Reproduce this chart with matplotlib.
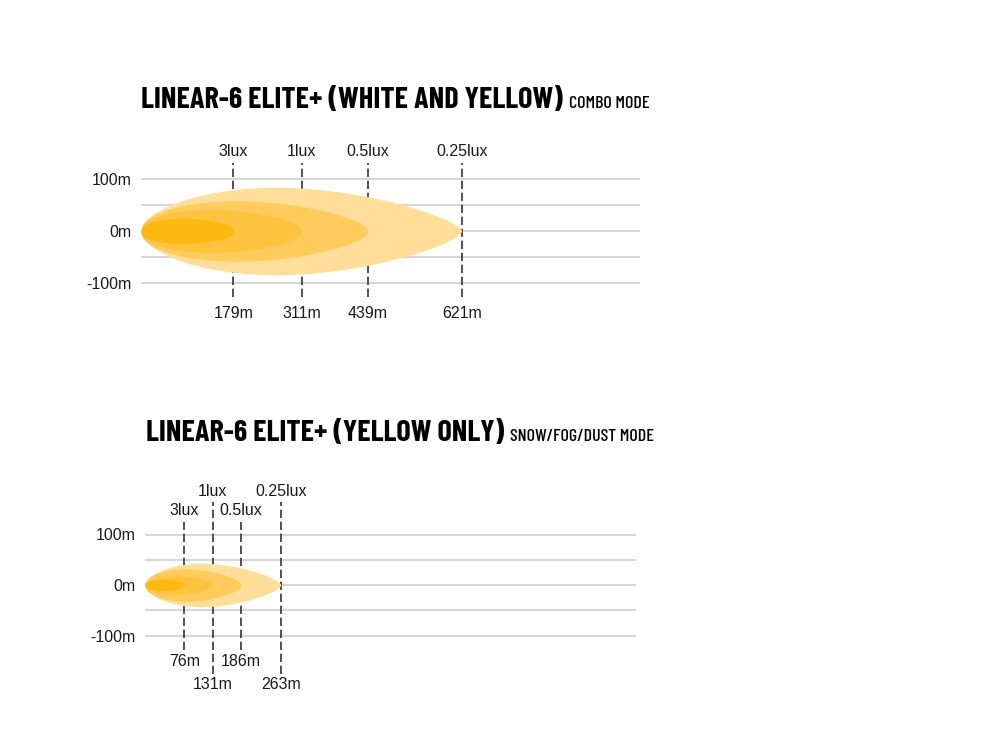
import matplotlib
matplotlib.use("Agg")
import matplotlib.pyplot as plt
import numpy as np

W, H = 1000, 750

# ── Data ──────────────────────────────────────────────────────────────────────
lux_labels = ["3lux", "1lux", "0.5lux", "0.25lux"]

combo_dist = [179, 311, 439, 621]       # beam reach (m)
combo_half = [24, 41, 58, 84]           # beam half width (m)

yellow_dist = [76, 131, 186, 263]
yellow_half = [11, 18, 32, 43]

y_ticks = [-100, -50, 0, 50, 100]
y_tick_labels = ["-100m", "", "0m", "", "100m"]

# colours, innermost (3lux) -> outermost (0.25lux)
BEAM_COLORS = ["#FCBA10", "#FDC33E", "#FECB5C", "#FFDE99"]
BEAM_BLUNT = [0.42, 0.5, 0.55, 0.65]    # smaller = rounder beam outline
BEAM_SKEW = [0.9, 0.85, 0.8, 0.8]       # where the widest point sits
C_GRID = "#CCCCCC"
C_DASH = "#333333"
C_TEXT = "#1A1A1A"

TITLE_FONT = ["Barlow Condensed", "DejaVu Sans"]
BODY_FONT = ["Liberation Sans", "DejaVu Sans"]

PX_PER_M = 0.5164  # horizontal scale shared by both charts

fig = plt.figure(figsize=(W / 100, H / 100), dpi=100)
fig.patch.set_facecolor("white")


def px_axes(x0, x1, y_top, y_bot, y_center, y_px_per_m):
    """Axes placed by pixel box; data units are metres."""
    ax = fig.add_axes([x0 / W, 1 - y_bot / H, (x1 - x0) / W, (y_bot - y_top) / H])
    ax.set_xlim(0, (x1 - x0) / PX_PER_M)
    ax.set_ylim(-(y_bot - y_center) / y_px_per_m, (y_center - y_top) / y_px_per_m)
    ax.patch.set_alpha(0)
    for sp in ax.spines.values():
        sp.set_visible(False)
    ax.set_xticks([])
    ax.set_yticks(y_ticks)
    ax.set_yticklabels(y_tick_labels, fontsize=11.5, family=BODY_FONT, color=C_TEXT)
    ax.tick_params(axis="y", length=0, pad=7)
    ax.yaxis.grid(True, color=C_GRID, linewidth=1.1)
    ax.set_axisbelow(True)
    return ax


def draw_beams(ax, dist, half):
    t = np.linspace(0, 1, 400)
    for i in reversed(range(len(dist))):
        shape = np.sin(np.pi * t ** BEAM_SKEW[i]) ** BEAM_BLUNT[i]
        ax.fill_between(dist[i] * t, -half[i] * shape, half[i] * shape,
                        color=BEAM_COLORS[i], linewidth=0, zorder=3 + (3 - i))


def draw_markers(ax, dist, line_top, line_bot, lux_y, dist_y):
    for i, d in enumerate(dist):
        ax.vlines(d, line_bot[i], line_top[i], colors=C_DASH, linewidth=1.2,
                  linestyles=(0, (5, 2.2)), zorder=2)
        ax.text(d, lux_y[i], lux_labels[i], ha="center", va="center",
                fontsize=11.5, family=BODY_FONT, color=C_TEXT)
        ax.text(d, dist_y[i], f"{d}m", ha="center", va="center",
                fontsize=11.5, family=BODY_FONT, color=C_TEXT)


def title(x, y_base, main, sub):
    t1 = fig.text(x / W, 1 - y_base / H, main, fontsize=21.8, weight="bold",
                  family=TITLE_FONT, color="#000000", va="baseline")
    fig.canvas.draw()
    bb = t1.get_window_extent()
    fig.text((bb.x1 + 6) / W, 1 - y_base / H, sub, fontsize=13, weight="medium",
             family=TITLE_FONT, color="#000000", va="baseline")


# ── Chart 1: combo mode ───────────────────────────────────────────────────────
title(141, 108, "LINEAR-6 ELITE+ (WHITE AND YELLOW)", "COMBO MODE")
ax1 = px_axes(141, 640, 140, 330, 231, 0.52)
draw_beams(ax1, combo_dist, combo_half)
draw_markers(ax1, combo_dist,
             line_top=[131] * 4, line_bot=[-127] * 4,
             lux_y=[152] * 4, dist_y=[-158] * 4)

# ── Chart 2: yellow only ──────────────────────────────────────────────────────
title(146, 441, "LINEAR-6 ELITE+ (YELLOW ONLY)", "SNOW/FOG/DUST MODE")
ax2 = px_axes(145, 636, 480, 700, 585, 0.505)
draw_beams(ax2, yellow_dist, yellow_half)
draw_markers(ax2, yellow_dist,
             line_top=[125, 164, 125, 164], line_bot=[-129, -176, -129, -176],
             lux_y=[148, 186, 148, 186], dist_y=[-152, -198, -152, -198])

fig.savefig("out.png", dpi=100, facecolor="white")
